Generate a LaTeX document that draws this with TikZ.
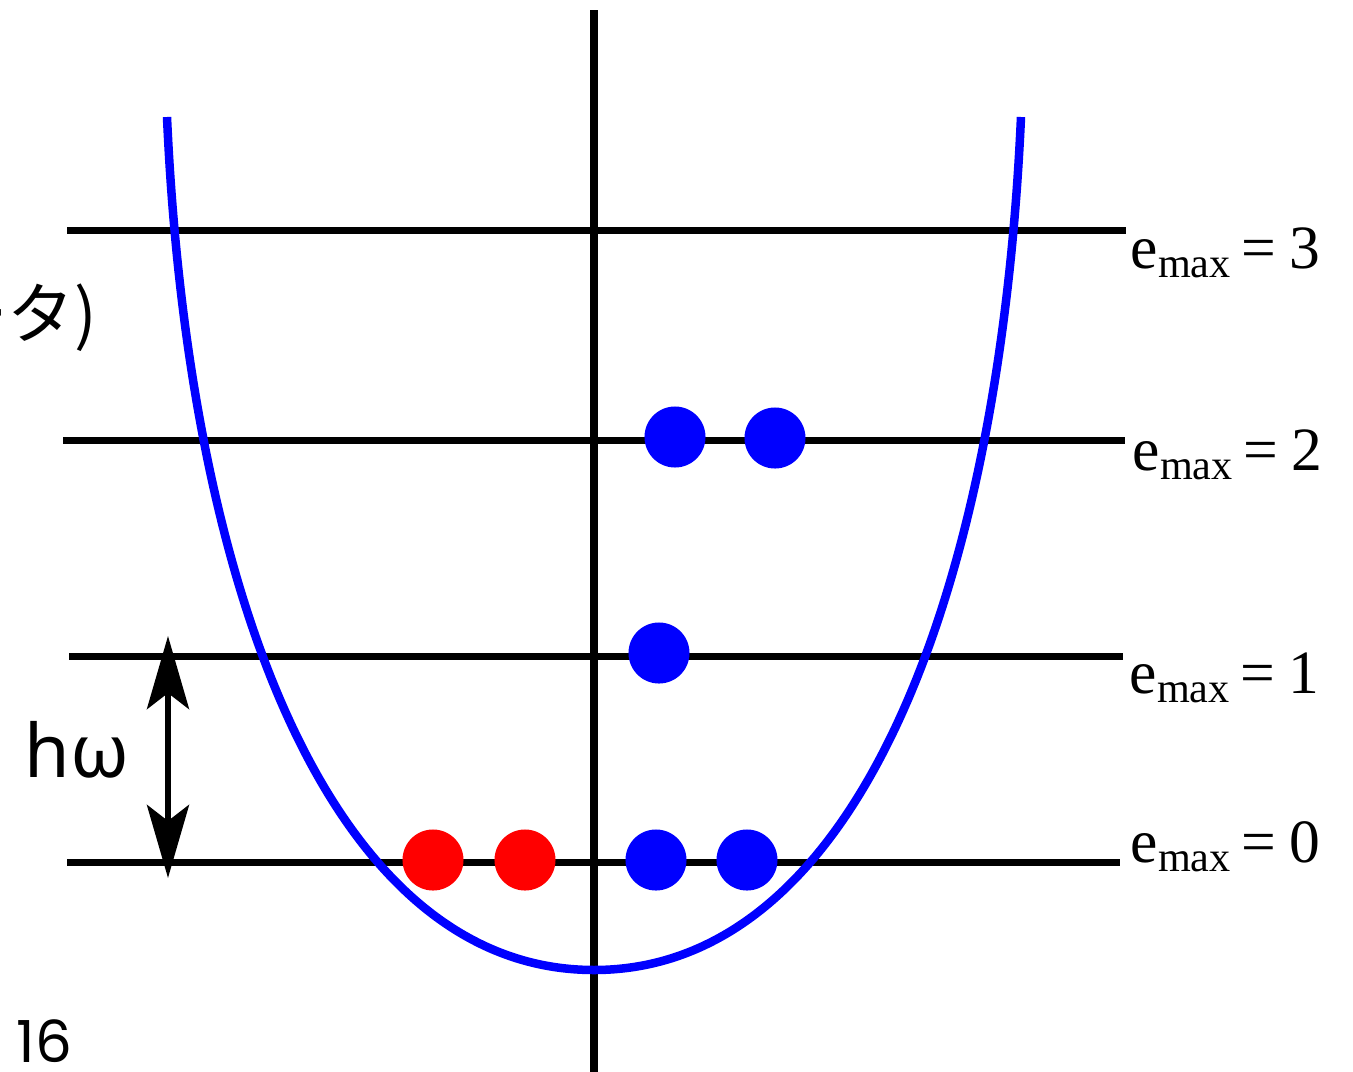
\documentclass[tikz,border=0pt]{standalone}
\usepackage{fontspec}
\setmainfont{Liberation Serif}
\newfontfamily\hosans{Poppins}
\newfontfamily\hogrego{Noto Sans}
\newfontfamily\hojp{Noto Sans CJK JP}
\usetikzlibrary{positioning,arrows.meta}
\definecolor{hoazul}{HTML}{0000FF}
\definecolor{hovermelho}{HTML}{FF0000}
\tikzset{
  honivel/.style={line width=0.07cm, draw=black},
  hoeixo/.style={line width=0.08cm, draw=black},
  hopoco/.style={line width=0.085cm, draw=hoazul},
  hobolaazul/.style={circle, fill=hoazul, minimum size=0.61cm, inner sep=0pt},
  hobolavermelha/.style={circle, fill=hovermelho, minimum size=0.61cm, inner sep=0pt},
  hoseta/.style={{Stealth[length=7.3mm, width=4.2mm, inset=1.6mm]}-{Stealth[length=7.3mm, width=4.2mm, inset=1.6mm]}, line width=0.06cm},
  horotulo/.style={anchor=base west, inner sep=0pt, font=\fontsize{17.5}{20}\selectfont},
}
\newcommand{\hoemax}[1]{e\raisebox{-2.8pt}{\fontsize{12}{14}\selectfont max}\hspace{3pt}=\hspace{4pt}#1}

\begin{document}
\begin{tikzpicture}[x=0.01cm, y=-0.01cm]
        \useasboundingbox (0,0) rectangle (1353,1072);
        % ---------------- eixo ----------------
        \coordinate (eixotopo) at (594,10);
        \coordinate (eixobase) at (594,1072);
        \draw[hoeixo] (eixotopo) -- (eixobase);
        % ---------------- niveis ----------------
        \coordinate (n3a) at (67,230);  \coordinate (n3b) at (1126,230);
        \coordinate (n2a) at (63,440);  \coordinate (n2b) at (1125,440);
        \coordinate (n1a) at (69,656);  \coordinate (n1b) at (1123,656);
        \coordinate (n0a) at (67,862);  \coordinate (n0b) at (1120,862);
        \foreach \n in {0,1,2,3} {\draw[honivel] (n\n a) -- (n\n b);}
        % ---------------- poco ----------------
        \draw[hopoco] (167,117) .. controls (188,587) and (329,970) .. (594,970)
                                .. controls (859,970) and (1000,587) .. (1021,117);
        % ---------------- rotulos ----------------
        \node[horotulo] (e3) at (1130,268) {\hoemax{3}};
        \node[horotulo] (e2) at (1132,470) {\hoemax{2}};
        \node[horotulo] (e1) at (1129,693) {\hoemax{1}};
        \node[horotulo] (e0) at (1130,862) {\hoemax{0}};
        \node[anchor=base east, inner sep=0pt, font=\hojp\fontsize{19}{22}\selectfont] (tx) at (98,338) {ータ)};
        \node[anchor=base west, inner sep=0pt, font=\hogrego\fontsize{21}{24}\selectfont] (hw) at (24,777) {hω};
        \node[anchor=base west, inner sep=0pt, font=\hosans\fontsize{16.5}{18}\selectfont] (pag) at (16,1062) {16};
        % ---------------- particulas ----------------
        \node[hobolaazul] (p2a) at (675,437) {};
        \node[hobolaazul] (p2b) at (775,438) {};
        \node[hobolaazul] (p1a) at (659,653) {};
        \node[hobolavermelha] (q0a) at (433,860) {};
        \node[hobolavermelha] (q0b) at (525,860) {};
        \node[hobolaazul] (p0a) at (656,860) {};
        \node[hobolaazul] (p0b) at (747,860) {};
        % ---------------- seta ----------------
        \coordinate (setatopo) at (168,636);
        \coordinate (setabase) at (168,878);
        \draw[hoseta] (setatopo) -- (setabase);
\end{tikzpicture}
\end{document}
